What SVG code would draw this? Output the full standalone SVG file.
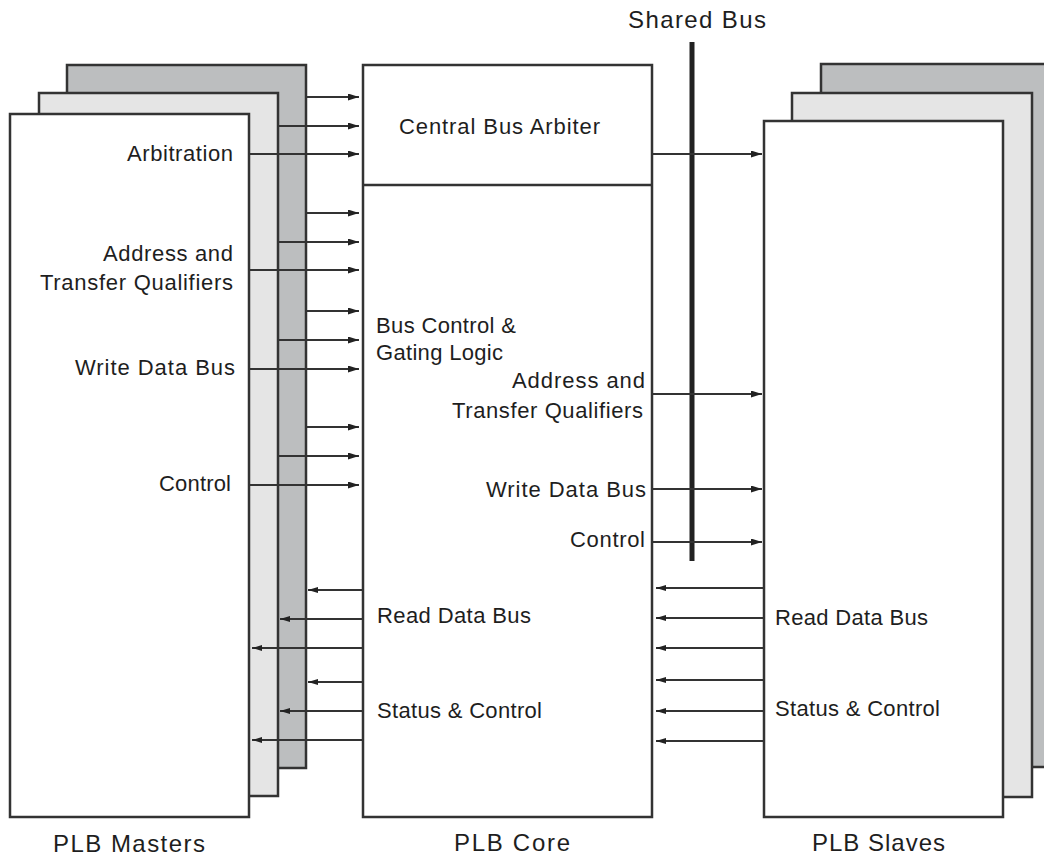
<svg xmlns="http://www.w3.org/2000/svg" width="1044" height="856" viewBox="0 0 1044 856">
<style>
.box{stroke:#333;stroke-width:2.5}
.back{fill:#bcbebf}
.mid{fill:#e5e5e5}
.front{fill:#fff}
.ln{stroke:#333;stroke-width:1.8;fill:none}
text{font-family:"Liberation Sans",Arial,sans-serif;font-size:22px;fill:#1e1e1e}
.big{font-size:24px}
.e{text-anchor:end}
</style>
<defs>
<marker id="ar" markerUnits="userSpaceOnUse" markerWidth="12" markerHeight="8" refX="11" refY="3.5" orient="auto">
<path d="M0,0 L11,3.5 L0,7 z" fill="#222"/>
</marker>
<marker id="al" markerUnits="userSpaceOnUse" markerWidth="12" markerHeight="8" refX="10" refY="3" orient="auto">
<path d="M0,0 L10,3 L0,6 z" fill="#222"/>
</marker>
</defs>
<rect width="1044" height="856" fill="#fff"/>

<g id="masters">
<rect class="box back" x="67" y="65" width="239" height="703"/>
<rect class="box mid" x="39" y="93" width="239" height="703"/>
<rect class="box front" x="10" y="114" width="239" height="703"/>
<text class="e" x="233" y="161" textLength="106">Arbitration</text>
<text class="e" x="233" y="261" textLength="130">Address and</text>
<text class="e" x="233" y="290" textLength="193">Transfer Qualifiers</text>
<text class="e" x="235" y="375" textLength="160">Write Data Bus</text>
<text class="e" x="231" y="491" textLength="72">Control</text>
<text class="big" x="53" y="852" textLength="152">PLB Masters</text>
</g>

<g id="core">
<rect class="box front" x="363" y="65" width="289" height="752"/>
<line class="box" x1="363" y1="185" x2="652" y2="185"/>
<text x="399" y="134" textLength="201">Central Bus Arbiter</text>
<text x="376" y="333" textLength="140">Bus Control &amp;</text>
<text x="376" y="360" textLength="127">Gating Logic</text>
<text class="e" x="645" y="388" textLength="133">Address and</text>
<text class="e" x="643" y="418" textLength="191">Transfer Qualifiers</text>
<text class="e" x="646" y="497" textLength="160">Write Data Bus</text>
<text class="e" x="645" y="547" textLength="75">Control</text>
<text x="377" y="623" textLength="154">Read Data Bus</text>
<text x="377" y="718" textLength="165">Status &amp; Control</text>
<text class="big" x="454" y="851" textLength="116">PLB Core</text>
</g>

<g id="slaves">
<rect class="box back" x="821" y="64" width="240" height="703"/>
<rect class="box mid" x="792" y="93" width="240" height="704"/>
<rect class="box front" x="764" y="121" width="239" height="696"/>
<text x="775" y="625" textLength="153">Read Data Bus</text>
<text x="775" y="716" textLength="165">Status &amp; Control</text>
<text class="big" x="812" y="851" textLength="133">PLB Slaves</text>
</g>

<g id="shared-bus">
<rect x="689.5" y="42" width="5" height="519" fill="#222"/>
<text class="big" x="628" y="28" textLength="138">Shared Bus</text>
</g>

<g id="connectors">
<line class="ln" x1="306" y1="97" x2="359" y2="97" marker-end="url(#ar)"/>
<line class="ln" x1="278" y1="126" x2="359" y2="126" marker-end="url(#ar)"/>
<line class="ln" x1="249" y1="154" x2="359" y2="154" marker-end="url(#ar)"/>
<line class="ln" x1="306" y1="213" x2="359" y2="213" marker-end="url(#ar)"/>
<line class="ln" x1="278" y1="242" x2="359" y2="242" marker-end="url(#ar)"/>
<line class="ln" x1="249" y1="270" x2="359" y2="270" marker-end="url(#ar)"/>
<line class="ln" x1="306" y1="311" x2="359" y2="311" marker-end="url(#ar)"/>
<line class="ln" x1="278" y1="340" x2="359" y2="340" marker-end="url(#ar)"/>
<line class="ln" x1="249" y1="369" x2="359" y2="369" marker-end="url(#ar)"/>
<line class="ln" x1="306" y1="427" x2="359" y2="427" marker-end="url(#ar)"/>
<line class="ln" x1="278" y1="456" x2="359" y2="456" marker-end="url(#ar)"/>
<line class="ln" x1="249" y1="485" x2="359" y2="485" marker-end="url(#ar)"/>

<line class="ln" x1="363" y1="590" x2="308" y2="590" marker-end="url(#al)"/>
<line class="ln" x1="363" y1="619" x2="280" y2="619" marker-end="url(#al)"/>
<line class="ln" x1="363" y1="648" x2="252" y2="648" marker-end="url(#al)"/>
<line class="ln" x1="363" y1="682" x2="308" y2="682" marker-end="url(#al)"/>
<line class="ln" x1="363" y1="711" x2="280" y2="711" marker-end="url(#al)"/>
<line class="ln" x1="363" y1="740" x2="252" y2="740" marker-end="url(#al)"/>

<line class="ln" x1="652" y1="154" x2="762" y2="154" marker-end="url(#ar)"/>
<line class="ln" x1="652" y1="394" x2="762" y2="394" marker-end="url(#ar)"/>
<line class="ln" x1="652" y1="489" x2="762" y2="489" marker-end="url(#ar)"/>
<line class="ln" x1="652" y1="542" x2="762" y2="542" marker-end="url(#ar)"/>

<line class="ln" x1="764" y1="588" x2="656" y2="588" marker-end="url(#al)"/>
<line class="ln" x1="764" y1="618" x2="656" y2="618" marker-end="url(#al)"/>
<line class="ln" x1="764" y1="648" x2="656" y2="648" marker-end="url(#al)"/>
<line class="ln" x1="764" y1="680" x2="656" y2="680" marker-end="url(#al)"/>
<line class="ln" x1="764" y1="711" x2="656" y2="711" marker-end="url(#al)"/>
<line class="ln" x1="764" y1="741" x2="656" y2="741" marker-end="url(#al)"/>
</g>
</svg>
